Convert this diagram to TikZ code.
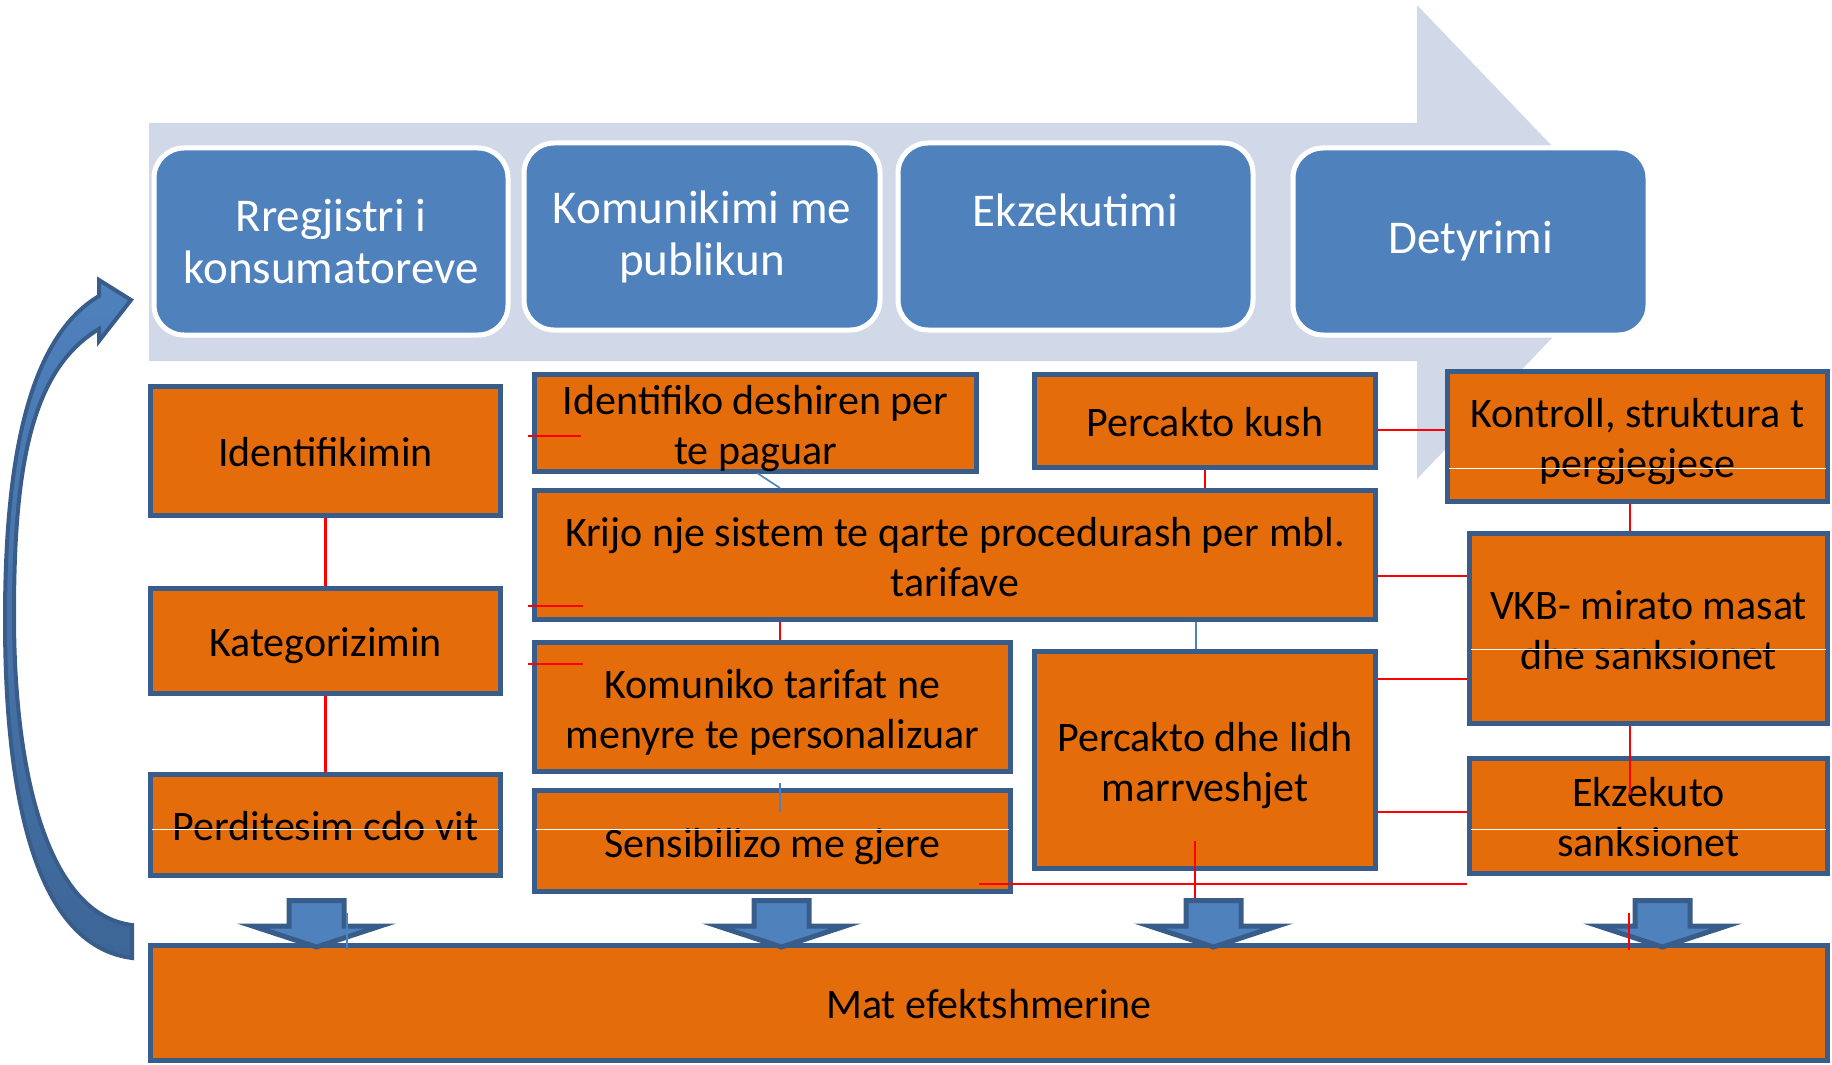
\documentclass[tikz,border=0pt]{standalone}
\usepackage{fontspec}
\setmainfont{Carlito}
\definecolor{orangef}{HTML}{E46C0A}
\definecolor{edgeb}{HTML}{385D8A}
\definecolor{blueb}{HTML}{4F81BD}
\definecolor{bgarrow}{HTML}{D1D9E8}
\definecolor{darkb}{HTML}{3D6697}
\begin{document}
\begin{tikzpicture}[x=0.5pt,y=-0.5pt,
  obox/.style={draw=edgeb, line width=2.5pt, fill=orangef, inner sep=0pt},
  otext/.style={inner sep=0pt, align=center, text=black, font=\fontsize{21}{25}\selectfont},
  bbox/.style={draw=white, line width=2.5pt, fill=blueb, rounded corners=15pt, inner sep=0pt, align=center, text=white, font=\fontsize{23.5}{26}\selectfont},
  redthick/.style={draw=red, line width=1.35pt},
  redthin/.style={draw=red, line width=0.85pt},
  blueline/.style={draw=blueb, line width=0.8pt},
  whiteline/.style={draw=white, line width=0.5pt},
  downarrow/.style={fill=blueb, draw=edgeb, line width=2.5pt, line join=miter}]
\useasboundingbox (0,0) rectangle (1832,1065);
% background process arrow
\fill[bgarrow] (149,123) -- (1417,123) -- (1417,5) -- (1644,242) -- (1417,479) -- (1417,361) -- (149,361) -- cycle;
% stage boxes
\node[bbox, minimum width=177pt, minimum height=93.5pt] (p1) at (331,241.5) {Rregjistri i\\konsumatoreve};
\node[bbox, minimum width=178pt, minimum height=93.5pt] (p2) at (702,236.5) {Komunikimi me\\publikun};
\node[bbox, minimum width=177.5pt, minimum height=93.5pt] (p3) at (1075.5,236.5) {Ekzekutimi\\\mbox{}};
\node[bbox, minimum width=177.5pt, minimum height=93.5pt] (p4) at (1470.5,241.5) {Detyrimi};
% orange boxes
\node[obox, minimum width=175pt, minimum height=64.5pt] (a) at (325.5,451) {};
\node[otext, yshift=-0.5pt] (at) at (a.center) {Identifikimin};
\node[obox, minimum width=175pt, minimum height=52.5pt] (b) at (325.5,641) {};
\node[otext, yshift=-2.5pt] (bt) at (b.center) {Kategorizimin};
\node[obox, minimum width=175pt, minimum height=50.5pt] (c) at (325.5,825) {};
\node[otext, yshift=-0.5pt] (ct) at (c.center) {Perditesim cdo vit};
\node[obox, minimum width=221pt, minimum height=48.5pt] (d) at (755.5,423) {};
\node[otext, yshift=-3pt] (dt) at (d.center) {Identifiko deshiren per\\te paguar};
\node[obox, minimum width=420.5pt, minimum height=64.5pt] (e) at (955,555) {};
\node[otext, yshift=-1pt] (et) at (e.center) {Krijo nje sistem te qarte procedurash per mbl.\\tarifave};
\node[obox, minimum width=238pt, minimum height=64.5pt] (f) at (772.5,707) {};
\node[otext, yshift=-2.5pt] (ft) at (f.center) {Komuniko tarifat ne\\menyre te personalizuar};
\node[obox, minimum width=238pt, minimum height=50.5pt] (g) at (772.5,841) {};
\node[otext, yshift=-3pt] (gt) at (g.center) {Sensibilizo me gjere};
\node[obox, minimum width=170.5pt, minimum height=46.5pt] (h) at (1205,421) {};
\node[otext, yshift=-0.5pt] (ht) at (h.center) {Percakto kush};
\node[obox, minimum width=170.5pt, minimum height=108.5pt] (i) at (1205,760) {};
\node[otext, yshift=-3pt] (it) at (i.center) {Percakto dhe lidh\\marrveshjet};
\node[obox, minimum width=190pt, minimum height=65pt] (j) at (1637.5,436.5) {};
\node[otext, yshift=-2.5pt] (jt) at (j.center) {Kontroll, struktura t\\pergjegjese};
\node[obox, minimum width=179pt, minimum height=95pt] (k) at (1648.5,628.5) {};
\node[otext, yshift=-1pt] (kt) at (k.center) {VKB- mirato masat\\dhe sanksionet};
\node[obox, minimum width=179pt, minimum height=57.5pt] (l) at (1648.5,816) {};
\node[otext, yshift=-0.5pt] (lt) at (l.center) {Ekzekuto\\sanksionet};
% thin white lines inside boxes
\coordinate (wc1) at (152,829); \coordinate (wc2) at (499,829);
\draw[whiteline] (wc1) -- (wc2);
\coordinate (wg1) at (536,829); \coordinate (wg2) at (1009,829);
\draw[whiteline] (wg1) -- (wg2);
\coordinate (wl1) at (1471,829); \coordinate (wl2) at (1826,829);
\draw[whiteline] (wl1) -- (wl2);
\coordinate (wj1) at (1449,468); \coordinate (wj2) at (1826,468);
\draw[whiteline] (wj1) -- (wj2);
\coordinate (wk1) at (1471,649); \coordinate (wk2) at (1826,649);
\draw[whiteline] (wk1) -- (wk2);
% connectors
\coordinate (xa) at (325.5,0);
\draw[redthick] (a.south -| xa) -- (b.north -| xa);
\draw[redthick] (b.south -| xa) -- (c.north -| xa);
\coordinate (s1a) at (528,436); \coordinate (s1b) at (581,436);
\draw[redthick] (s1a) -- (s1b);
\coordinate (s2a) at (528,606); \coordinate (s2b) at (583,606);
\draw[redthin] (s2a) -- (s2b);
\coordinate (s3a) at (528,664); \coordinate (s3b) at (583,664);
\draw[redthick] (s3a) -- (s3b);
\coordinate (xef) at (780,0);
\draw[redthick] (e.south -| xef) -- (f.north -| xef);
\coordinate (bd1) at (757,473); \coordinate (bd2) at (780,488);
\draw[blueline] (bd1) -- (bd2);
\coordinate (bg1) at (780,783); \coordinate (bg2) at (780,812);
\draw[blueline] (bg1) -- (bg2);
\draw[redthin] (h.south) -- (e.north -| h.south);
\coordinate (yhj) at (0,430);
\draw[redthin] (h.east |- yhj) -- (j.west |- yhj);
\coordinate (xr) at (1630,0);
\draw[redthin] (j.south -| xr) -- (k.north -| xr);
\coordinate (yek) at (0,576);
\draw[redthick] (e.east |- yek) -- (k.west |- yek);
\coordinate (xei) at (1196,0);
\draw[blueline] (e.south -| xei) -- (i.north -| xei);
\coordinate (yik) at (0,679);
\draw[redthin] (i.east |- yik) -- (k.west |- yik);
\coordinate (yil) at (0,812);
\draw[redthin] (i.east |- yil) -- (l.west |- yil);
\coordinate (kl) at (1630,795);
\draw[redthin] (k.south -| xr) -- (kl);
% bottom box
\node[obox, minimum width=838.5pt, minimum height=57.5pt] (m) at (989,1003) {};
\node[otext, yshift=-0.5pt] (mt) at (m.center) {Mat efektshmerine};
% lines near bottom
\coordinate (v1) at (1195,841); \coordinate (v2) at (1195,898);
\draw[redthick] (v1) -- (v2);
\coordinate (h1) at (979,884); \coordinate (h2) at (1467,884);
\draw[redthick] (h1) -- (h2);
% down arrows
\foreach \cx in {316.5,781.5,1213.5,1662.5}
  \draw[downarrow] ({\cx-27.5},900.5) -- ({\cx+27.5},900.5) -- ({\cx+27.5},926) -- ({\cx+64},926) -- (\cx,947) -- ({\cx-64},926) -- ({\cx-27.5},926) -- cycle;
\coordinate (ba1) at (347,913); \coordinate (ba2) at (347,950);
\draw[blueb, line width=1.4pt] (ba1) -- (ba2);
\coordinate (ra1) at (1629,913); \coordinate (ra2) at (1629,950);
\draw[redthin] (ra1) -- (ra2);
% curved return arrow
\shadedraw[top color=blueb, bottom color=darkb, draw=edgeb, line width=2pt, line join=miter]
  (132,958) .. controls (30,945) and (5,780) .. (5,620)
  .. controls (5,470) and (25,340) .. (99,296)
  -- (99,280) -- (131,300) -- (99,341) -- (99,329)
  .. controls (30,370) and (14,470) .. (14,615)
  .. controls (14,780) and (50,915) .. (132,925) -- cycle;
\end{tikzpicture}
\end{document}
